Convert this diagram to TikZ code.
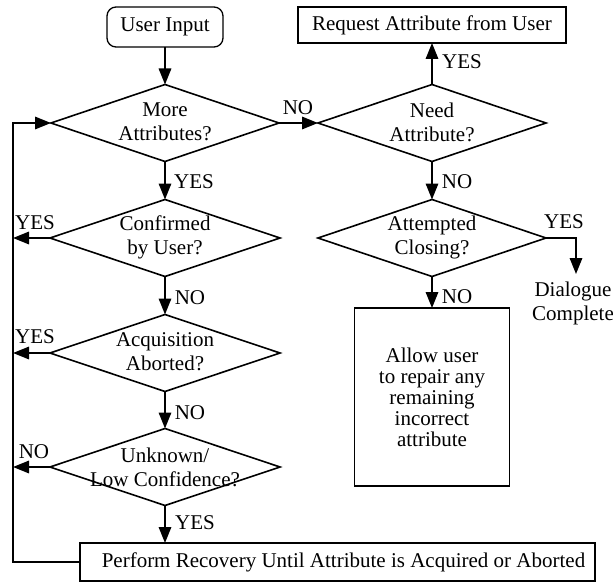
\documentclass[tikz,border=0pt]{standalone}
\usepackage{fontspec}
\setmainfont{Liberation Serif}
\usetikzlibrary{shapes.geometric,arrows.meta}

\begin{document}
\begin{tikzpicture}[x=1pt,y=-1pt,
  every node/.style={font=\fontsize{21}{24}\selectfont, inner sep=0pt, outer sep=0pt},
  arr/.style={line width=1.6pt, -{Triangle[length=16pt,width=12.5pt]}},
  decision/.style={diamond, draw, line width=1.6pt, minimum width=228pt, minimum height=77pt},
  box/.style={rectangle, draw, line width=1.3pt},
  dtext/.style={align=center}]
\useasboundingbox (0,0) rectangle (613,586);

% process boxes
\node[box, rounded corners=9pt, minimum width=116pt, minimum height=40pt] (start) at (165,27) {User Input};
\node[box, minimum width=268pt, minimum height=36pt] (req) at (432,25) {Request Attribute from User};
\node[box, minimum width=155pt, minimum height=178pt, align=center,
      font=\fontsize{21}{21}\selectfont] (allow) at (432,397)
  {Allow user\\to repair any\\remaining\\incorrect\\attribute};
\node[box, minimum width=515pt, minimum height=38pt] (perf) at (337.5,562)
  {\hspace*{12pt}Perform Recovery Until Attribute is Acquired or Aborted};
\node[dtext] (done) at (573,303) {Dialogue\\Complete};

% decisions
\node[decision] (more) at (165,123) {};
\node[dtext] (moret) at (165,122) {More\\Attributes?};
\node[decision] (need) at (432,123) {};
\node[dtext] (needt) at (432,122) {Need\\Attribute?};
\node[decision, minimum width=230pt] (conf) at (165,238) {};
\node[dtext] (conft) at (165,237) {Confirmed\\by User?};
\node[decision, minimum width=230pt] (acq) at (165,353) {};
\node[dtext] (acqt) at (165,352) {Acquisition\\Aborted?};
\node[decision, minimum width=230pt] (unk) at (165,467) {};
\node[dtext] (unkt) at (165,467) {Unknown/\\Low Confidence?};
\node[decision] (att) at (432,238) {};
\node[dtext] (attt) at (432,237) {Attempted\\Closing?};

% loop lane and free end
\coordinate (lane) at (13,123);
\coordinate (dtip) at (576,274);

% connectors
\draw[arr] (start) -- (more.north);
\draw[arr] (more.east) -- (need.west);
\draw[arr] (need.north) -- (req.south);
\draw[arr] (need.south) -- (att.north);
\draw[arr] (att.south) -- (allow.north);
\draw[arr] (att.east) -| (dtip);
\draw[arr] (more.south) -- (conf.north);
\draw[arr] (conf.south) -- (acq.north);
\draw[arr] (acq.south) -- (unk.north);
\draw[arr] (unk.south) -- (unk.south |- perf.north);
\draw[arr] (conf.west) -- (conf.west -| lane);
\draw[arr] (acq.west) -- (acq.west -| lane);
\draw[arr] (unk.west) -- (unk.west -| lane);
\draw[arr] (perf.west) -| (lane) -- (more.west);

% branch labels
\node (n1) at (298,108) {NO};
\node (y1) at (462,62) {YES};
\node (n2) at (457,182) {NO};
\node (y2) at (564,222) {YES};
\node (n3) at (457,297) {NO};
\node (y3) at (194,182) {YES};
\node (n4) at (190,298) {NO};
\node (n5) at (190,413) {NO};
\node (y4) at (195,523) {YES};
\node (y5) at (35,223) {YES};
\node (y6) at (35,337) {YES};
\node (n6) at (34,452) {NO};
\end{tikzpicture}
\end{document}
